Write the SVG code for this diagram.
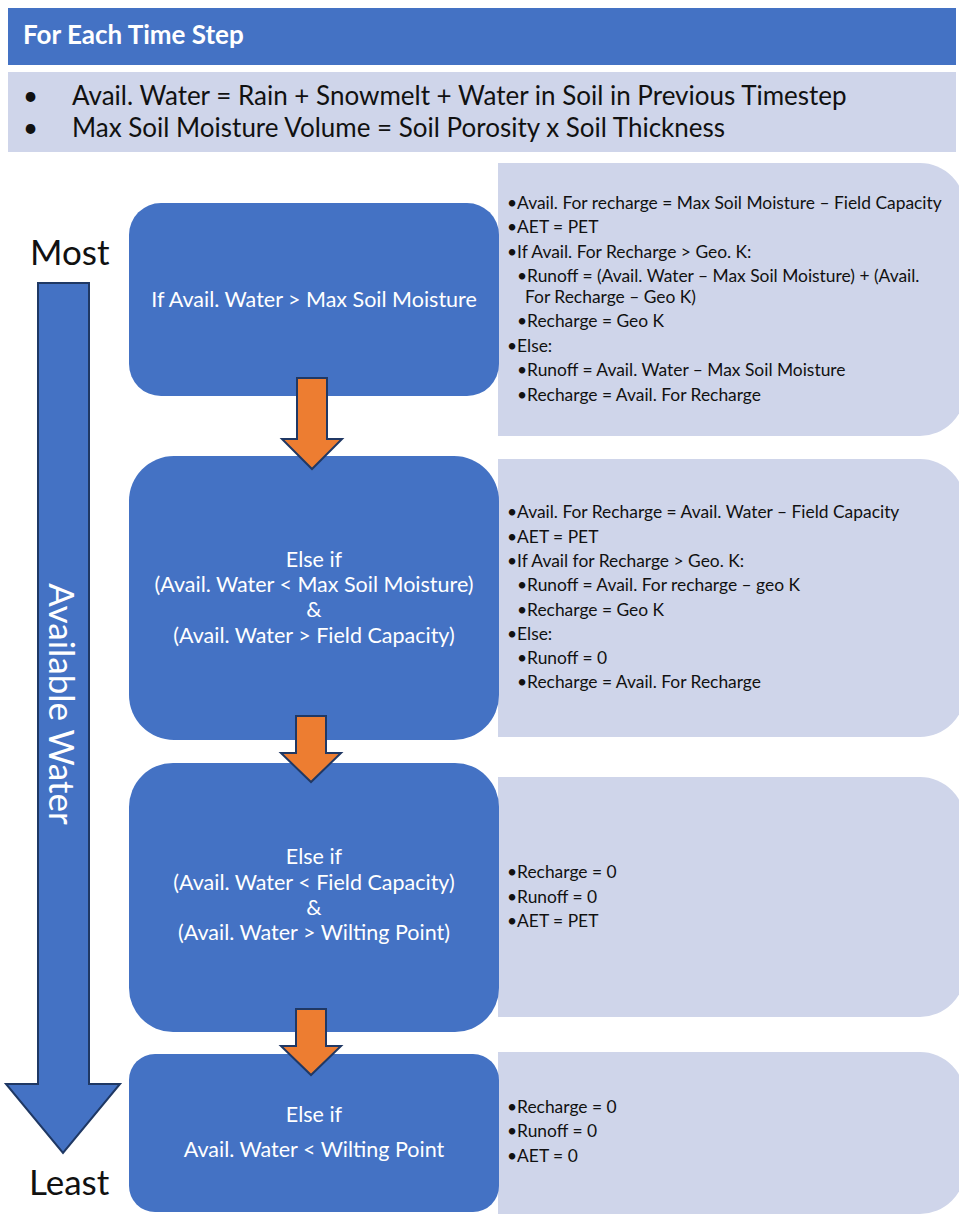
<svg xmlns="http://www.w3.org/2000/svg" width="959" height="1220" viewBox="0 0 959 1220">
<style>
.t{font-family:Lato,"Open Sans","Liberation Sans",sans-serif}
.hdr{font-size:26px;font-weight:bold;fill:#fff}
.band{font-size:26px;fill:#111}
.big{font-size:35px;fill:#111}
.bx{fill:#4472C4}
.bt{font-size:21.5px;fill:#fff;text-anchor:middle}
.pn{fill:#CFD5EA}
.pt{font-size:17.4px;fill:#111}
.or{fill:#ED7D31;stroke:#203864;stroke-width:2;stroke-linejoin:miter}
</style>
<rect width="959" height="1220" fill="#fff"/>
<g id="header">
<rect x="8" y="8" width="948" height="57" fill="#4472C4"/>
<text class="t hdr" x="23" y="44">For Each Time Step</text>
</g>
<g id="definitions">
<rect x="8" y="72" width="948" height="80" fill="#CFD5EA"/>
<text class="t band" x="23" y="105">•</text>
<text class="t band" x="72" y="105">Avail. Water = Rain + Snowmelt + Water in Soil in Previous Timestep</text>
<text class="t band" x="23" y="137">•</text>
<text class="t band" x="72" y="137">Max Soil Moisture Volume = Soil Porosity x Soil Thickness</text>
</g>
<g id="scale">
<text class="t big" x="30" y="265">Most</text>
<path d="M38,283 H89 V1084 H120 L63,1153 L6,1084 H38 Z" fill="#4472C4" stroke="#1F3864" stroke-width="2"/>
<text class="t" x="49" y="704" transform="rotate(90 49 704)" text-anchor="middle" font-size="35" fill="#fff">Available Water</text>
<text class="t big" x="29" y="1195">Least</text>
</g>
<g id="panel1">
<path class="pn" d="M498,163 H920 A45,45 0 0 1 965,208 V391 A45,45 0 0 1 920,436 H498 Z"/>
<text class="t pt" x="507" y="209">•Avail. For recharge = Max Soil Moisture – Field Capacity</text>
<text class="t pt" x="507" y="233">•AET = PET</text>
<text class="t pt" x="507" y="258">•If Avail. For Recharge &gt; Geo. K:</text>
<text class="t pt" x="517" y="282">•Runoff = (Avail. Water – Max Soil Moisture) + (Avail.</text>
<text class="t pt" x="525" y="303">For Recharge – Geo K)</text>
<text class="t pt" x="517" y="327">•Recharge = Geo K</text>
<text class="t pt" x="507" y="352">•Else:</text>
<text class="t pt" x="517" y="376">•Runoff = Avail. Water – Max Soil Moisture</text>
<text class="t pt" x="517" y="401">•Recharge = Avail. For Recharge</text>
</g>
<g id="panel2">
<path class="pn" d="M498,459 H920 A45,45 0 0 1 965,504 V692 A45,45 0 0 1 920,737 H498 Z"/>
<text class="t pt" x="507" y="518">•Avail. For Recharge = Avail. Water – Field Capacity</text>
<text class="t pt" x="507" y="543">•AET = PET</text>
<text class="t pt" x="507" y="567">•If Avail for Recharge &gt; Geo. K:</text>
<text class="t pt" x="517" y="591">•Runoff = Avail. For recharge – geo K</text>
<text class="t pt" x="517" y="616">•Recharge = Geo K</text>
<text class="t pt" x="507" y="640">•Else:</text>
<text class="t pt" x="517" y="664">•Runoff = 0</text>
<text class="t pt" x="517" y="688">•Recharge = Avail. For Recharge</text>
</g>
<g id="panel3">
<path class="pn" d="M498,777 H920 A45,45 0 0 1 965,822 V972 A45,45 0 0 1 920,1017 H498 Z"/>
<text class="t pt" x="507" y="878">•Recharge = 0</text>
<text class="t pt" x="507" y="903">•Runoff = 0</text>
<text class="t pt" x="507" y="927">•AET = PET</text>
</g>
<g id="panel4">
<path class="pn" d="M498,1052 H920 A45,45 0 0 1 965,1097 V1169 A45,45 0 0 1 920,1214 H498 Z"/>
<text class="t pt" x="507" y="1113">•Recharge = 0</text>
<text class="t pt" x="507" y="1137">•Runoff = 0</text>
<text class="t pt" x="507" y="1162">•AET = 0</text>
</g>
<g id="box1">
<rect class="bx" x="129" y="203" width="370" height="193" rx="32"/>
<text class="t bt" x="314" y="307">If Avail. Water &gt; Max Soil Moisture</text>
</g>
<g id="box2">
<rect class="bx" x="129" y="456" width="370" height="284" rx="45"/>
<text class="t bt" x="314" y="567">Else if</text>
<text class="t bt" x="314" y="592">(Avail. Water &lt; Max Soil Moisture)</text>
<text class="t bt" x="314" y="617">&amp;</text>
<text class="t bt" x="314" y="643">(Avail. Water &gt; Field Capacity)</text>
</g>
<g id="box3">
<rect class="bx" x="129" y="763" width="370" height="269" rx="44"/>
<text class="t bt" x="314" y="864">Else if</text>
<text class="t bt" x="314" y="890">(Avail. Water &lt; Field Capacity)</text>
<text class="t bt" x="314" y="915">&amp;</text>
<text class="t bt" x="314" y="940">(Avail. Water &gt; Wilting Point)</text>
</g>
<g id="box4">
<rect class="bx" x="129" y="1054" width="370" height="158" rx="26"/>
<text class="t bt" x="314" y="1122">Else if</text>
<text class="t bt" x="314" y="1157">Avail. Water &lt; Wilting Point</text>
</g>
<g id="connectors">
<path class="or" d="M297,378 H327 V439 H342 L312,469 L282,439 H297 Z"/>
<path class="or" d="M296,716 H326 V753 H341 L311,782 L281,753 H296 Z"/>
<path class="or" d="M296,1009 H326 V1046 H341 L311,1075 L281,1046 H296 Z"/>
</g>
</svg>
